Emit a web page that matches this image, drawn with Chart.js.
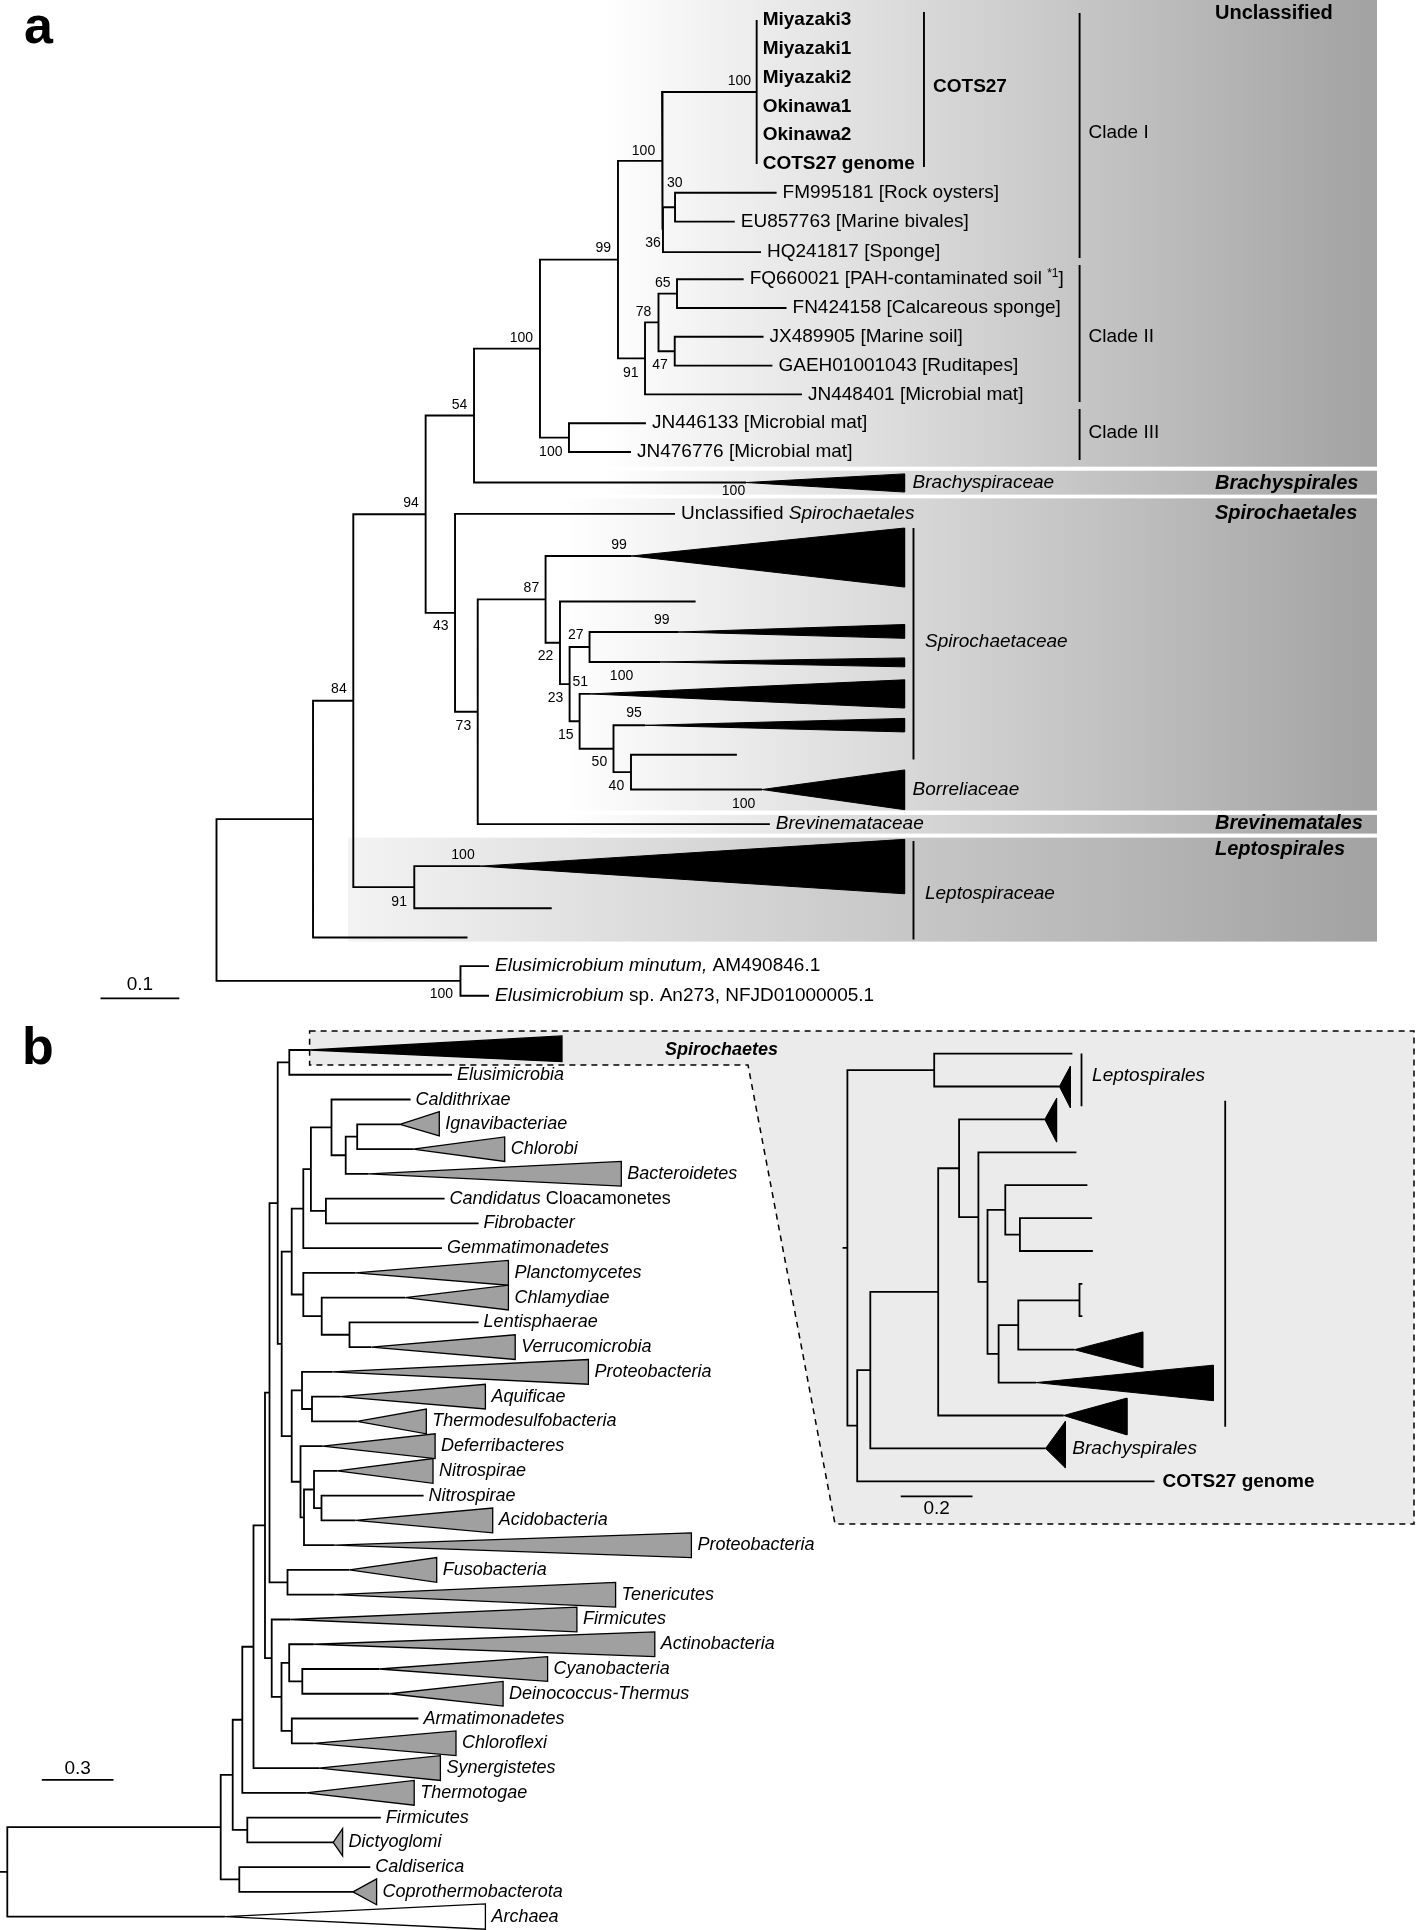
<!DOCTYPE html>
<html>
<head>
<meta charset="utf-8">
<script src="https://cdn.jsdelivr.net/npm/chart.js@4.4.0/dist/chart.umd.min.js"></script>
<style>
  html, body { margin: 0; padding: 0; background: #fff; }
  #wrap { width: 1419px; height: 1930px; }
</style>
</head>
<body>
<div id="wrap"><canvas id="tree" width="1419" height="1930"></canvas></div>
<script>
// ---------- panel a: 16S tree (depth = substitutions/site, row = leaf slot) ----------
// internal nodes: [id, parent, depth]
const aNodes = [
  ['R', null, 0], ['n84', 'R', 0.1225], ['n94', 'n84', 0.1736], ['n54', 'n94', 0.2654],
  ['n100a', 'n54', 0.3268], ['n100b', 'n100a', 0.4105], ['n99', 'n100b', 0.5095],
  ['n100d', 'n99', 0.5654], ['cots', 'n100d', 0.6855], ['n36', 'n100d', 0.5666],
  ['n30', 'n36', 0.5819], ['n91', 'n99', 0.5438], ['n78', 'n91', 0.5609],
  ['n65', 'n78', 0.5844], ['n47', 'n78', 0.5815], ['n100c', 'n100b', 0.4473],
  ['n43', 'n54', 0.3027], ['n73', 'n43', 0.3315], ['n87', 'n73', 0.4176],
  ['n22', 'n87', 0.4359], ['n23', 'n22', 0.4481], ['n27', 'n23', 0.4734],
  ['n15', 'n23', 0.4608], ['n50', 'n15', 0.5038], ['n40', 'n50', 0.5260],
  ['n91L', 'n94', 0.2510], ['elus', 'R', 0.3096]
];
// tips: [parent, depth, row, label, style]
const aTips = [
  ['cots', 0.6855, 1, 'Miyazaki3', 'b'], ['cots', 0.6855, 2, 'Miyazaki1', 'b'],
  ['cots', 0.6855, 3, 'Miyazaki2', 'b'], ['cots', 0.6855, 4, 'Okinawa1', 'b'],
  ['cots', 0.6855, 5, 'Okinawa2', 'b'], ['cots', 0.6855, 6, 'COTS27 genome', 'b'],
  ['n30', 0.7108, 7, 'FM995181 [Rock oysters]', 'r'],
  ['n30', 0.6577, 8, 'EU857763 [Marine bivales]', 'r'],
  ['n36', 0.6910, 9.06, 'HQ241817 [Sponge]', 'r'],
  ['n65', 0.6690, 10, 'FQ660021 [PAH-contaminated soil ^*1^]', 'r'],
  ['n65', 0.7234, 11, 'FN424158 [Calcareous sponge]', 'r'],
  ['n47', 0.6942, 12, 'JX489905 [Marine soil]', 'r'],
  ['n47', 0.7055, 13, 'GAEH01001043 [Ruditapes]', 'r'],
  ['n91', 0.7430, 14, 'JN448401 [Microbial mat]', 'r'],
  ['n100c', 0.5450, 15, 'JN446133 [Microbial mat]', 'r'],
  ['n100c', 0.5260, 16, 'JN476776 [Microbial mat]', 'r'],
  ['n43', 0.5819, 18.15, 'Unclassified _Spirochaetales_', 'r'],
  ['n22', 0.6080, 21.19, '', 'r'],
  ['n40', 0.6604, 26.51, '', 'r'],
  ['n73', 0.7022, 28.92, 'Brevinemataceae', 'i'],
  ['n91L', 0.4254, 31.84, '', 'r'],
  ['n84', 0.3185, 32.86, '', 'r'],
  ['elus', 0.3458, 33.85, '_Elusimicrobium minutum,_ AM490846.1', 'r'],
  ['elus', 0.3458, 34.88, '_Elusimicrobium_ sp. An273, NFJD01000005.1', 'r']
];
// collapsed clades: [parent, apexDepth, baseDepth, row, rowTop, rowBottom, label]
const aClades = [
  ['n100a', 0.6720, 0.8732, 17.06, 16.76, 17.39, 'Brachyspiraceae'],
  ['n87', 0.5268, 0.8732, 19.61, 18.64, 20.69, ''],
  ['n27', 0.5857, 0.8732, 22.25, 21.99, 22.47, ''],
  ['n27', 0.5628, 0.8732, 23.29, 23.15, 23.46, ''],
  ['n15', 0.4740, 0.8732, 24.40, 23.91, 24.89, ''],
  ['n50', 0.5438, 0.8732, 25.49, 25.25, 25.72, ''],
  ['n40', 0.6923, 0.8732, 27.72, 27.04, 28.42, 'Borreliaceae'],
  ['n91L', 0.3344, 0.8732, 30.38, 29.45, 31.34, '']
];
// bootstrap support: [value, depth, row]
const aSupport = [
  ['100', 0.6635, 3.14], ['100', 0.5419, 5.54], ['30', 0.5816, 6.66], ['36', 0.5539, 8.74],
  ['99', 0.4907, 8.92], ['65', 0.5664, 10.13], ['78', 0.5419, 11.13], ['47', 0.5628, 13.00],
  ['91', 0.5256, 13.25], ['100', 0.3869, 12.05], ['100', 0.4242, 15.99], ['54', 0.3085, 14.37],
  ['100', 0.6561, 17.35], ['94', 0.2468, 17.76], ['43', 0.2845, 22.04], ['99', 0.5107, 19.24],
  ['87', 0.3996, 20.74], ['99', 0.5650, 21.84], ['27', 0.4558, 22.36], ['22', 0.4174, 23.09],
  ['100', 0.5140, 23.79], ['51', 0.4617, 24.00], ['23', 0.4301, 24.54], ['95', 0.5298, 25.07],
  ['15', 0.4433, 25.83], ['50', 0.4859, 26.77], ['40', 0.5075, 27.59], ['100', 0.6690, 28.21],
  ['73', 0.3133, 25.53], ['84', 0.1553, 24.25], ['100', 0.3128, 30.00], ['91', 0.2318, 31.63],
  ['100', 0.2854, 34.82]
];
// brackets: [depth, rowTop, rowBottom]
const aBrackets = [
  [0.8978, 0.72, 6.10], [1.0953, 0.76, 9.26], [1.0953, 9.51, 14.26],
  [1.0953, 14.51, 16.28], [0.8845, 18.64, 26.68], [0.8845, 29.51, 32.93]
];
// other text: [text, depth, row, style]
const aNotes = [
  ['COTS27', 0.9093, 3.33, 'b'], ['Clade I', 1.1066, 4.92, 'r'],
  ['Clade II', 1.1066, 12.01, 'r'], ['Clade III', 1.1066, 15.34, 'r'],
  ['Spirochaetaceae', 0.8991, 22.60, 'i'], ['Leptospiraceae', 0.8991, 31.34, 'i']
];
// order bands: [label, depthLeft, depthRight, rowTop, rowBottom, labelRow]
const aBands = [
  ['Unclassified', 0.4867, 1.4727, 0.30, 16.51, 0.76],
  ['_Brachyspirales_', 0.4867, 1.4727, 16.65, 17.48, 17.11],
  ['_Spirochaetales_', 0.4397, 1.4727, 17.61, 28.45, 18.15],
  ['_Brevinematales_', 0.4397, 1.4727, 28.60, 29.25, 28.91],
  ['_Leptospirales_', 0.1669, 1.4727, 29.39, 33.00, 29.79]
];
const aBandLabelDepth = 1.2671;
const aScaleBar = [-0.1472, -0.0472, 34.97, '0.1', 34.51];

// ---------- panel b: concatenated protein tree ----------
const bNodes = [
  ['R', null, 0], ['n220', 'R', 0.8929], ['n232', 'n220', 0.9431], ['n239', 'n220', 0.9707],
  ['n242', 'n232', 0.9833], ['n247', 'n232', 1.0042], ['n253', 'n242', 1.0301],
  ['n265', 'n253', 1.0782], ['n269', 'n265', 1.0971], ['n271', 'n265', 1.1063],
  ['n277', 'n269', 1.1314], ['n287', 'n269', 1.1724], ['n289b', 'n277', 1.1799],
  ['n281b', 'n277', 1.1481], ['n291a', 'n281b', 1.1900], ['n291b', 'n281b', 1.1900],
  ['n303a', 'n291a', 1.2385], ['n303b', 'n291a', 1.2385], ['n310', 'n303a', 1.2703],
  ['n331', 'n310', 1.3565], ['n345', 'n331', 1.4159], ['n357', 'n345', 1.4640],
  ['n326', 'n310', 1.3331], ['n321', 'n303b', 1.3155], ['n349', 'n321', 1.4318],
  ['n301', 'n291b', 1.2331], ['n312', 'n301', 1.2749], ['n300', 'n291b', 1.2268],
  ['n304', 'n300', 1.2414], ['n314', 'n304', 1.2833], ['n321b', 'n314', 1.3146],
  ['n281', 'n271', 1.1473], ['n289', 'n281', 1.1795], ['n302', 'n289', 1.2343],
  ['n291c', 'n281', 1.1904]
];
const bTips = [
  ['n289b', 1.8607, 2, 'Elusimicrobia', 'i'], ['n331', 1.6874, 3, 'Caldithrixae', 'i'],
  ['n326', 1.8297, 7, 'Candidatus_ Cloacamonetes', 'i'], ['n326', 1.9720, 8, 'Fibrobacter', 'i'],
  ['n303a', 1.8188, 9, 'Gemmatimonadetes', 'i'], ['n349', 1.9720, 12, 'Lentisphaerae', 'i'],
  ['n321b', 1.7418, 19, 'Nitrospirae', 'i'], ['n291c', 1.7201, 28, 'Armatimonadetes', 'i'],
  ['n247', 1.5628, 32, 'Firmicutes', 'i'], ['n239', 1.5188, 34, 'Caldiserica', 'i']
];
const bClades = [
  ['n289b', 1.2665, 2.3209, 1, 0.43, 1.47, ''],
  ['n357', 1.6431, 1.8075, 4, 3.49, 4.47, 'Ignavibacteriae'],
  ['n357', 1.6975, 2.0812, 5, 4.51, 5.50, 'Chlorobi'],
  ['n345', 1.5121, 2.5690, 6, 5.50, 6.50, 'Bacteroidetes'],
  ['n303b', 1.4573, 2.0967, 10, 9.50, 10.50, 'Planctomycetes'],
  ['n321', 1.6653, 2.0967, 11, 10.50, 11.50, 'Chlamydiae'],
  ['n349', 1.5230, 2.1251, 13, 12.50, 13.50, 'Verrucomicrobia'],
  ['n301', 1.3586, 2.4314, 14, 13.50, 14.50, 'Proteobacteria'],
  ['n312', 1.3921, 2.0004, 15, 14.50, 15.50, 'Aquificae'],
  ['n312', 1.4640, 1.7531, 16, 15.50, 16.50, 'Thermodesulfobacteria'],
  ['n300', 1.3197, 1.7900, 17, 16.50, 17.50, 'Deferribacteres'],
  ['n314', 1.3808, 1.7812, 18, 17.50, 18.50, 'Nitrospirae'],
  ['n321b', 1.4573, 2.0310, 20, 19.50, 20.50, 'Acidobacteria'],
  ['n304', 1.3699, 2.8623, 21, 20.50, 21.50, 'Proteobacteria'],
  ['n287', 1.4314, 1.7967, 22, 21.50, 22.50, 'Fusobacteria'],
  ['n287', 1.3699, 2.5452, 23, 22.50, 23.50, 'Tenericutes'],
  ['n271', 1.1841, 2.3833, 24, 23.50, 24.50, 'Firmicutes'],
  ['n289', 1.2824, 2.7092, 25, 24.50, 25.50, 'Actinobacteria'],
  ['n302', 1.5561, 2.2607, 26, 25.50, 26.50, 'Cyanobacteria'],
  ['n302', 1.5996, 2.0745, 27, 26.50, 27.50, 'Deinococcus-Thermus'],
  ['n291c', 1.2824, 1.8774, 29, 28.50, 29.50, 'Chloroflexi'],
  ['n253', 1.3042, 1.8121, 30, 29.50, 30.50, 'Synergistetes'],
  ['n242', 1.2498, 1.7025, 31, 30.50, 31.50, 'Thermotogae'],
  ['n247', 1.3636, 1.4029, 33, 32.45, 33.55, 'Dictyoglomi'],
  ['n239', 1.4464, 1.5452, 35, 34.48, 35.52, 'Coprothermobacterota'],
  ['R', 0.9105, 2.0004, 36, 35.49, 36.51, 'Archaea']
];
const bNotes = [['_Spirochaetes_', 2.7519, 1, 'b']];
// zoom box around Spirochaetes, in panel b units
const bZoomBox = [[1.2649, 0.2326], [5.8858, 0.2326], [5.8858, 20.14], [3.4632, 20.14], [3.0992, 1.6058], [1.2649, 1.6058]];
const bScaleBar = [0.1444, 0.4444, 30.48, '0.3', 30.01];
const bRootTick = -0.0305;

// ---------- inset: Spirochaetes with COTS27 genome ----------
const iNodes = [
  ['R', null, 0], ['nL', 'R', 0.2418], ['n857', 'R', 0.0273], ['n870', 'n857', 0.0638],
  ['n938', 'n870', 0.2529], ['n959', 'n938', 0.3111], ['n978', 'n959', 0.3649],
  ['n987', 'n978', 0.3903], ['n1005', 'n987', 0.4398], ['n1020', 'n1005', 0.4805],
  ['n998', 'n987', 0.4212], ['n1018', 'n998', 0.4760]
];
const iTips = [
  ['nL', 0.6267, 1, '', 'r'], ['n978', 0.6379, 4, '', 'r'], ['n1005', 0.6685, 5, '', 'r'],
  ['n1020', 0.6816, 6, '', 'r'], ['n1020', 0.6838, 7, '', 'r'], ['n1018', 0.6465, 8.5, '', 'r'],
  ['n857', 0.8554, 14, 'COTS27 genome', 'b']
];
const iClades = [
  ['nL', 0.5905, 0.6212, 2, 1.38, 2.65, ''],
  ['n959', 0.5499, 0.5827, 3, 2.36, 3.69, ''],
  ['n1018', 0.6323, 0.8226, 10, 9.46, 10.55, ''],
  ['n998', 0.5256, 1.0192, 11, 10.47, 11.55, ''],
  ['n938', 0.6025, 0.7786, 12, 11.47, 12.59, ''],
  ['n870', 0.5521, 0.6070, 13, 12.18, 13.59, 'Brachyspirales']
];
const iBrackets = [[0.6521, 1, 2.60], [1.0524, 2.43, 12.34], [0.6465, 8.0, 8.98]];
const iNotes = [['Leptospirales', 0.6816, 1.68, 'i']];
const iScaleBar = [0.1485, 0.3485, 14.46, '0.2', 14.84];
const iRootTick = -0.0134;

// ---------- page layout ----------
const W = 1419, H = 1930;
const LAYOUT = {
  a: {x0: 216.5, xs: 788, y0: 20, ys: 28.8},
  b: {x0: 7.3, xs: 239, y0: 1050, ys: 24.76},
  i: {x0: 847.4, xs: 359, y0: 1053.6, ys: 32.9}
};
const FONT = '"Liberation Sans", Arial, Helvetica, sans-serif';
const GRAY = '#a2a2a2';

function axesFor(p) {
  const L = LAYOUT[p];
  const s = {};
  s['x' + p] = {type: 'linear', display: false, min: -L.x0 / L.xs, max: (W - L.x0) / L.xs};
  s['y' + p] = {type: 'linear', display: false, reverse: true, min: 1 - L.y0 / L.ys, max: 1 + (H - L.y0) / L.ys};
  return s;
}

const gap = () => ({x: null, y: null});

// elbow paths for a rectangular tree; internal node rows sit midway between outer children
function treePoints(nodes, tips, clades, rootTick) {
  const map = {};
  nodes.forEach(([id, , depth]) => { map[id] = {x: depth, kids: []}; });
  nodes.forEach(([id, parent]) => { if (parent) map[parent].kids.push(map[id]); });
  tips.forEach(([parent, depth, row]) => map[parent].kids.push({x: depth, y: row}));
  clades.forEach(([parent, apex, , row]) => map[parent].kids.push({x: apex, y: row}));
  const rowOf = n => {
    if (n.y === undefined) {
      const ys = n.kids.map(rowOf);
      n.y = (Math.min(...ys) + Math.max(...ys)) / 2;
    }
    return n.y;
  };
  const root = map[nodes[0][0]];
  rowOf(root);
  const pts = [];
  Object.values(map).forEach(n => {
    const kids = n.kids.slice().sort((p, q) => p.y - q.y);
    const top = kids[0], bot = kids[kids.length - 1];
    pts.push({x: top.x, y: top.y}, {x: n.x, y: top.y}, {x: n.x, y: bot.y}, {x: bot.x, y: bot.y}, gap());
    kids.slice(1, -1).forEach(k => pts.push({x: n.x, y: k.y}, {x: k.x, y: k.y}, gap()));
  });
  if (rootTick !== undefined) pts.push({x: rootTick, y: root.y}, {x: 0, y: root.y}, gap());
  return pts;
}

function extraLines(brackets, bar, serif) {
  const pts = [];
  brackets.forEach(([d, t, b], k) => {
    if (serif && k === brackets.length - 1) {
      pts.push({x: d + serif, y: t}, {x: d, y: t}, {x: d, y: b}, {x: d + serif, y: b}, gap());
    } else {
      pts.push({x: d, y: t}, {x: d, y: b}, gap());
    }
  });
  pts.push({x: bar[0], y: bar[2]}, {x: bar[1], y: bar[2]}, gap());
  return pts;
}

function lineSet(p, data, width) {
  return {
    data, xAxisID: 'x' + p, yAxisID: 'y' + p, showLine: true, spanGaps: false,
    borderColor: '#000', borderWidth: width, pointRadius: 0, fill: false,
    borderJoinStyle: 'miter', order: 1
  };
}

function cladeSets(p, clades, fillFor, width) {
  return clades.map(([, apex, base, row, top, bot], k) => ({
    data: [{x: apex, y: row}, {x: base, y: top}, {x: base, y: bot}, {x: apex, y: row}],
    xAxisID: 'x' + p, yAxisID: 'y' + p, showLine: true,
    borderColor: '#000', borderWidth: width, backgroundColor: fillFor(k),
    fill: 'shape', pointRadius: 0, order: 2
  }));
}

const datasets = [
  ...cladeSets('a', aClades, () => '#000', 1),
  ...cladeSets('b', bClades, k => k === 0 ? '#000' : (k === bClades.length - 1 ? '#fff' : '#a0a0a0'), 1.3),
  ...cladeSets('i', iClades, () => '#000', 1),
  lineSet('a', treePoints(aNodes, aTips, aClades), 1.9),
  lineSet('a', extraLines(aBrackets, aScaleBar), 1.9),
  lineSet('b', treePoints(bNodes, bTips, bClades, bRootTick), 1.8),
  lineSet('b', extraLines([], bScaleBar), 1.8),
  lineSet('i', treePoints(iNodes, iTips, iClades, iRootTick), 1.8),
  lineSet('i', extraLines(iBrackets, iScaleBar, 0.008), 1.8)
];

// text with _italic_ and ^superscript^ toggles
function rich(ctx, str, x, y, size, style, align) {
  const bold = style.includes('b');
  let it = style.includes('i'), sup = false, buf = '';
  const parts = [];
  const flush = () => { if (buf) parts.push({t: buf, it, sup}); buf = ''; };
  for (const ch of str) {
    if (ch === '_') { flush(); it = !it; }
    else if (ch === '^') { flush(); sup = !sup; }
    else buf += ch;
  }
  flush();
  const font = q => (q.it ? 'italic ' : '') + (bold ? 'bold ' : '') + (q.sup ? Math.round(size * 0.62) : size) + 'px ' + FONT;
  let w = 0;
  parts.forEach(q => { ctx.font = font(q); q.w = ctx.measureText(q.t).width; w += q.w; });
  let cx = align === 'center' ? x - w / 2 : x;
  ctx.textAlign = 'left';
  ctx.textBaseline = 'middle';
  ctx.fillStyle = '#000';
  parts.forEach(q => { ctx.font = font(q); ctx.fillText(q.t, cx, q.sup ? y - size * 0.3 : y); cx += q.w; });
}

const decor = {
  id: 'decor',
  beforeDatasetsDraw(chart) {
    const ctx = chart.ctx;
    const xa = chart.scales.xa, ya = chart.scales.ya, xb = chart.scales.xb, yb = chart.scales.yb;
    ctx.save();
    aBands.forEach(([, l, r, t, b], k) => {
      const x0 = xa.getPixelForValue(l), x1 = xa.getPixelForValue(r);
      const y0 = ya.getPixelForValue(t), y1 = ya.getPixelForValue(b);
      const g = ctx.createLinearGradient(x0, 0, x1, 0);
      g.addColorStop(0, k === aBands.length - 1 ? '#f3f3f3' : '#ffffff');
      g.addColorStop(1, GRAY);
      ctx.fillStyle = g;
      ctx.fillRect(x0, y0, x1 - x0, y1 - y0);
    });
    ctx.beginPath();
    bZoomBox.forEach(([d, r], k) => {
      const px = xb.getPixelForValue(d), py = yb.getPixelForValue(r);
      if (k === 0) ctx.moveTo(px, py); else ctx.lineTo(px, py);
    });
    ctx.closePath();
    ctx.fillStyle = '#ebebeb';
    ctx.fill();
    ctx.setLineDash([6, 5]);
    ctx.lineWidth = 1.5;
    ctx.strokeStyle = '#000';
    ctx.stroke();
    ctx.restore();
  },
  afterDatasetsDraw(chart) {
    const ctx = chart.ctx;
    const S = chart.scales;
    ctx.save();
    const panel = (p, tips, clades, notes, bar, tipSize, tipGap, cladeGap) => {
      const xs = S['x' + p], ys = S['y' + p];
      tips.forEach(([, d, r, label, st]) => {
        if (label) rich(ctx, label, xs.getPixelForValue(d) + tipGap, ys.getPixelForValue(r), tipSize, st);
      });
      clades.forEach(([, , base, r, , , label]) => {
        if (label) rich(ctx, label, xs.getPixelForValue(base) + cladeGap, ys.getPixelForValue(r), tipSize, 'i');
      });
      notes.forEach(([label, d, r, st]) => {
        rich(ctx, label, xs.getPixelForValue(d), ys.getPixelForValue(r), st.includes('b') && p !== 'a' ? tipSize : 19, st);
      });
      rich(ctx, bar[3], xs.getPixelForValue((bar[0] + bar[1]) / 2), ys.getPixelForValue(bar[4]), 19, 'r', 'center');
    };
    panel('a', aTips, aClades, aNotes, aScaleBar, 19, 6, 8);
    panel('b', bTips, bClades, bNotes, bScaleBar, 18, 5, 6);
    panel('i', iTips, iClades, iNotes, iScaleBar, 19, 8, 7);
    aSupport.forEach(([v, d, r]) => rich(ctx, v, S.xa.getPixelForValue(d), S.ya.getPixelForValue(r), 14, 'r', 'center'));
    aBands.forEach(([label, , , , , r]) => rich(ctx, label, S.xa.getPixelForValue(aBandLabelDepth), S.ya.getPixelForValue(r), 20, 'b'));
    ctx.font = 'bold 52px ' + FONT;
    ctx.textBaseline = 'alphabetic';
    ctx.fillStyle = '#000';
    ctx.fillText('a', 24, 43);
    ctx.fillText('b', 22, 1064);
    ctx.restore();
  }
};

new Chart(document.getElementById('tree'), {
  type: 'scatter',
  data: {datasets},
  options: {
    responsive: false,
    animation: false,
    devicePixelRatio: 1,
    events: [],
    layout: {padding: 0, autoPadding: false},
    plugins: {legend: {display: false}, tooltip: {enabled: false}},
    elements: {point: {radius: 0, hoverRadius: 0}, line: {tension: 0}},
    scales: {...axesFor('a'), ...axesFor('b'), ...axesFor('i')}
  },
  plugins: [decor]
});
</script>
</body>
</html>
